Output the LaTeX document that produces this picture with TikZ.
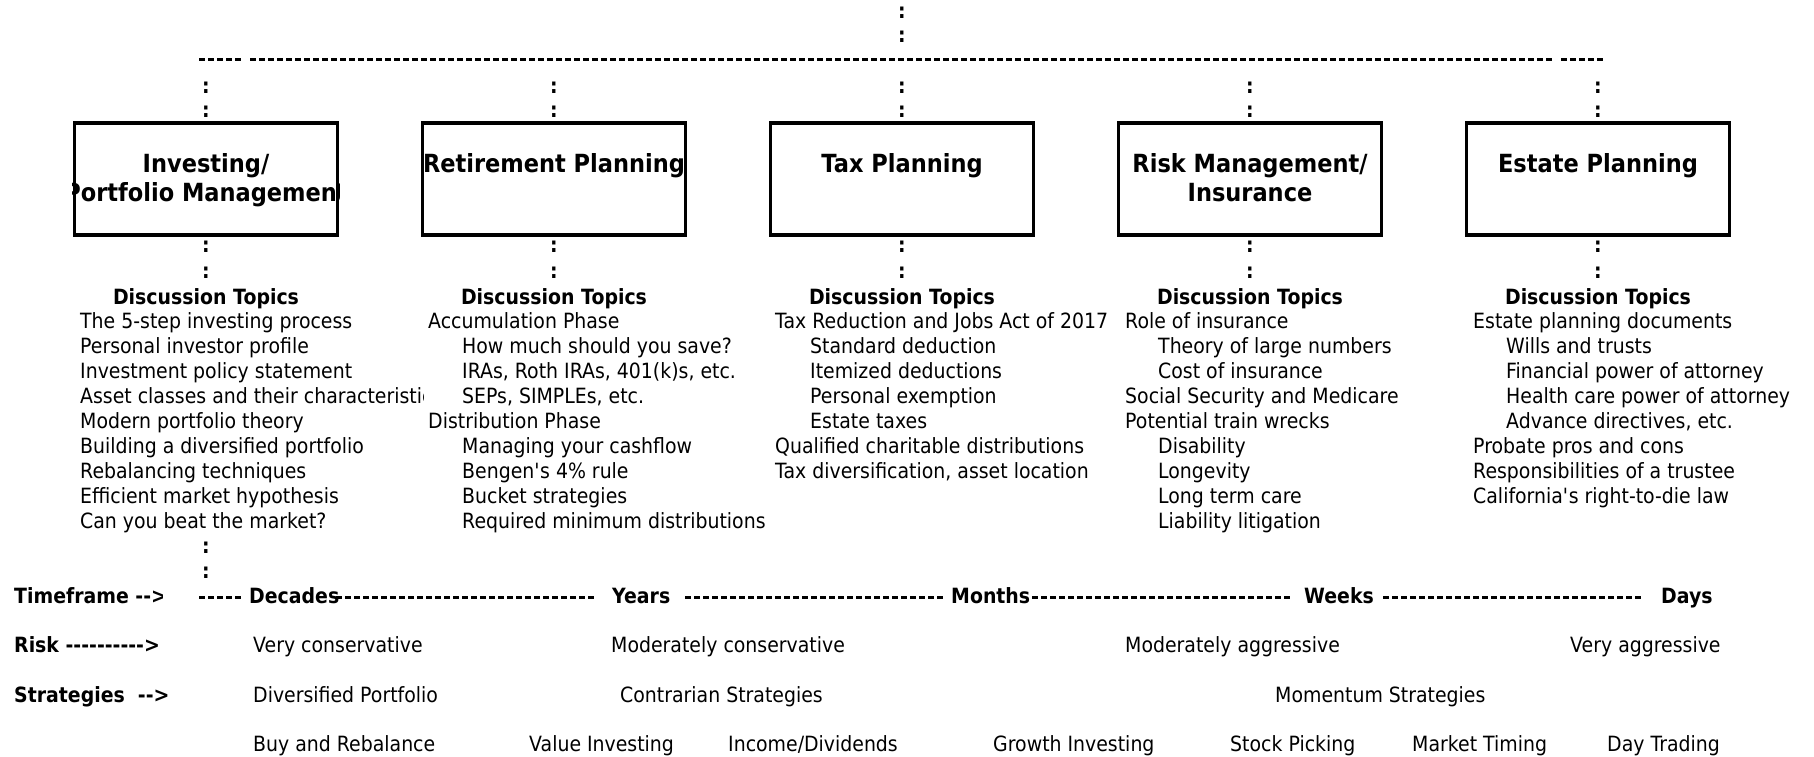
\documentclass[tikz,border=0pt]{standalone}
\usepackage{fontspec}
\setmainfont{DejaVu Sans}[FakeStretch=0.9, Ligatures=TeXOff]
\usetikzlibrary{positioning}

\tikzset{
  topicbox/.style={draw, line width=3.5pt, minimum width=263pt, minimum height=112pt, inner sep=0pt},
  boxtitle/.style={font=\fontsize{25}{29}\selectfont\bfseries, align=center, anchor=base, inner sep=0pt},
  colon/.style={font=\fontsize{21}{25}\selectfont\bfseries, inner sep=0pt},
  heading/.style={font=\fontsize{21}{25}\selectfont\bfseries, anchor=base, inner sep=0pt},
  rowlabel/.style={font=\fontsize{21}{25}\selectfont\bfseries, anchor=base west, inner sep=0pt},
  listitem/.style={font=\fontsize{21}{25}\selectfont, anchor=base west, inner sep=0pt},
  dashline/.style={line width=3pt, dash pattern=on 6pt off 3pt},
}

\begin{document}
\begin{tikzpicture}[x=1pt, y=-1pt]
  \useasboundingbox (0,0) rectangle (1814,757);

  % link from above and the bus line
  \node[colon] (up1) at (902,13) {:};
  \node[colon] (up2) at (902,37) {:};
  \coordinate (busA) at (199,60);
  \coordinate (busB) at (243,60);
  \coordinate (busC) at (250,60);
  \coordinate (busD) at (1553,60);
  \coordinate (busE) at (1561,60);
  \coordinate (busF) at (1604,60);
  \draw[dashline] (busA) -- (busB);
  \draw[dashline] (busC) -- (busD);
  \draw[dashline] (busE) -- (busF);

  % colons down to the boxes
  \node[colon] (investU1) at (206,88) {:};
  \node[colon] (investU2) at (206,112) {:};
  \node[colon] (retireU1) at (554,88) {:};
  \node[colon] (retireU2) at (554,112) {:};
  \node[colon] (taxU1) at (902,88) {:};
  \node[colon] (taxU2) at (902,112) {:};
  \node[colon] (riskU1) at (1250,88) {:};
  \node[colon] (riskU2) at (1250,112) {:};
  \node[colon] (estateU1) at (1598,88) {:};
  \node[colon] (estateU2) at (1598,112) {:};

  % the five boxes
  \node[topicbox] (invest) at (206,179) {};
  \node[topicbox] (retire) at (554,179) {};
  \node[topicbox] (tax) at (902,179) {};
  \node[topicbox] (risk) at (1250,179) {};
  \node[topicbox] (estate) at (1598,179) {};
  \begin{scope}
    \clip (invest.south west) rectangle (invest.north east);
    \node[boxtitle] (investT) at ([yshift=-80pt]invest.north) {Investing/\\Portfolio Management};
  \end{scope}
  \begin{scope}
    \clip (retire.south west) rectangle (retire.north east);
    \node[boxtitle] (retireT) at ([yshift=-51pt]retire.north) {Retirement Planning};
  \end{scope}
  \node[boxtitle] (taxT) at ([yshift=-51pt]tax.north) {Tax Planning};
  \node[boxtitle] (riskT) at ([yshift=-80pt]risk.north) {Risk Management/\\Insurance};
  \node[boxtitle] (estateT) at ([yshift=-51pt]estate.north) {Estate Planning};

  % colons below the boxes
  \node[colon] (investD1) at (206,247) {:};
  \node[colon] (investD2) at (206,273) {:};
  \node[colon] (retireD1) at (554,247) {:};
  \node[colon] (retireD2) at (554,273) {:};
  \node[colon] (taxD1) at (902,247) {:};
  \node[colon] (taxD2) at (902,273) {:};
  \node[colon] (riskD1) at (1250,247) {:};
  \node[colon] (riskD2) at (1250,273) {:};
  \node[colon] (estateD1) at (1598,247) {:};
  \node[colon] (estateD2) at (1598,273) {:};

  \node[heading] (investH) at (206,304) {Discussion Topics};
  \node[heading] (retireH) at (554,304) {Discussion Topics};
  \node[heading] (taxH) at (902,304) {Discussion Topics};
  \node[heading] (riskH) at (1250,304) {Discussion Topics};
  \node[heading] (estateH) at (1598,304) {Discussion Topics};

  % investing topics
  \node[listitem] (inv1) at (80,328) {The 5-step investing process};
  \node[listitem] (inv2) at (80,353) {Personal investor profile};
  \node[listitem] (inv3) at (80,378) {Investment policy statement};
  \begin{scope}
    \clip (60,382) rectangle (423,412);
    \node[listitem] (inv4) at (80,403) {Asset classes and their characteristics};
  \end{scope}
  \node[listitem] (inv5) at (80,428) {Modern portfolio theory};
  \node[listitem] (inv6) at (80,453) {Building a diversified portfolio};
  \node[listitem] (inv7) at (80,478) {Rebalancing techniques};
  \node[listitem] (inv8) at (80,503) {Efficient market hypothesis};
  \node[listitem] (inv9) at (80,528) {Can you beat the market?};

  % retirement topics
  \node[listitem] (ret1) at (428,328) {Accumulation Phase};
  \node[listitem] (ret2) at (462,353) {How much should you save?};
  \node[listitem] (ret3) at (462,378) {IRAs, Roth IRAs, 401(k)s, etc.};
  \node[listitem] (ret4) at (462,403) {SEPs, SIMPLEs, etc.};
  \node[listitem] (ret5) at (428,428) {Distribution Phase};
  \node[listitem] (ret6) at (462,453) {Managing your cashflow};
  \node[listitem] (ret7) at (462,478) {Bengen\textquotesingle s 4\% rule};
  \node[listitem] (ret8) at (462,503) {Bucket strategies};
  \node[listitem] (ret9) at (462,528) {Required minimum distributions};

  % tax topics
  \node[listitem] (tax1) at (775,328) {Tax Reduction and Jobs Act of 2017};
  \node[listitem] (tax2) at (810,353) {Standard deduction};
  \node[listitem] (tax3) at (810,378) {Itemized deductions};
  \node[listitem] (tax4) at (810,403) {Personal exemption};
  \node[listitem] (tax5) at (810,428) {Estate taxes};
  \node[listitem] (tax6) at (775,453) {Qualified charitable distributions};
  \node[listitem] (tax7) at (775,478) {Tax diversification, asset location};

  % risk topics
  \node[listitem] (risk1) at (1125,328) {Role of insurance};
  \node[listitem] (risk2) at (1158,353) {Theory of large numbers};
  \node[listitem] (risk3) at (1158,378) {Cost of insurance};
  \node[listitem] (risk4) at (1125,403) {Social Security and Medicare};
  \node[listitem] (risk5) at (1125,428) {Potential train wrecks};
  \node[listitem] (risk6) at (1158,453) {Disability};
  \node[listitem] (risk7) at (1158,478) {Longevity};
  \node[listitem] (risk8) at (1158,503) {Long term care};
  \node[listitem] (risk9) at (1158,528) {Liability litigation};

  % estate topics
  \node[listitem] (est1) at (1473,328) {Estate planning documents};
  \node[listitem] (est2) at (1506,353) {Wills and trusts};
  \node[listitem] (est3) at (1506,378) {Financial power of attorney};
  \node[listitem] (est4) at (1506,403) {Health care power of attorney};
  \node[listitem] (est5) at (1506,428) {Advance directives, etc.};
  \node[listitem] (est6) at (1473,453) {Probate pros and cons};
  \node[listitem] (est7) at (1473,478) {Responsibilities of a trustee};
  \node[listitem] (est8) at (1473,503) {California\textquotesingle s right-to-die law};

  \node[colon] (investB1) at (206,548) {:};
  \node[colon] (investB2) at (206,573) {:};

  % timeframe row
  \begin{scope}
    \clip (0,580) rectangle (162,612);
    \node[rowlabel] (timeL) at (14,603) {Timeframe -->};
  \end{scope}
  \draw[dashline] (199,597) -- (243,597);
  \node[rowlabel] (decades) at (249,603) {Decades};
  \draw[dashline] (336,597) -- (596,597);
  \node[rowlabel] (years) at (612,603) {Years};
  \draw[dashline] (685,597) -- (945,597);
  \node[rowlabel] (months) at (951,603) {Months};
  \draw[dashline] (1032,597) -- (1292,597);
  \node[rowlabel] (weeks) at (1304,603) {Weeks};
  \draw[dashline] (1383,597) -- (1641,597);
  \node[rowlabel] (days) at (1661,603) {Days};

  % risk row
  \node[rowlabel] (riskL) at (14,652) {Risk ---------->};
  \node[listitem] (risk1R) at (253,652) {Very conservative};
  \node[listitem] (risk2R) at (611,652) {Moderately conservative};
  \node[listitem] (risk3R) at (1125,652) {Moderately aggressive};
  \node[listitem] (risk4R) at (1570,652) {Very aggressive};

  % strategies rows
  \node[rowlabel] (stratL) at (14,702) {Strategies~~-->};
  \node[listitem] (strat1) at (253,702) {Diversified Portfolio};
  \node[listitem] (strat2) at (620,702) {Contrarian Strategies};
  \node[listitem] (strat3) at (1275,702) {Momentum Strategies};
  \node[listitem] (styl1) at (253,751) {Buy and Rebalance};
  \node[listitem] (styl2) at (529,751) {Value Investing};
  \node[listitem] (styl3) at (728,751) {Income/Dividends};
  \node[listitem] (styl4) at (993,751) {Growth Investing};
  \node[listitem] (styl5) at (1230,751) {Stock Picking};
  \node[listitem] (styl6) at (1412,751) {Market Timing};
  \node[listitem] (styl7) at (1607,751) {Day Trading};
\end{tikzpicture}
\end{document}
